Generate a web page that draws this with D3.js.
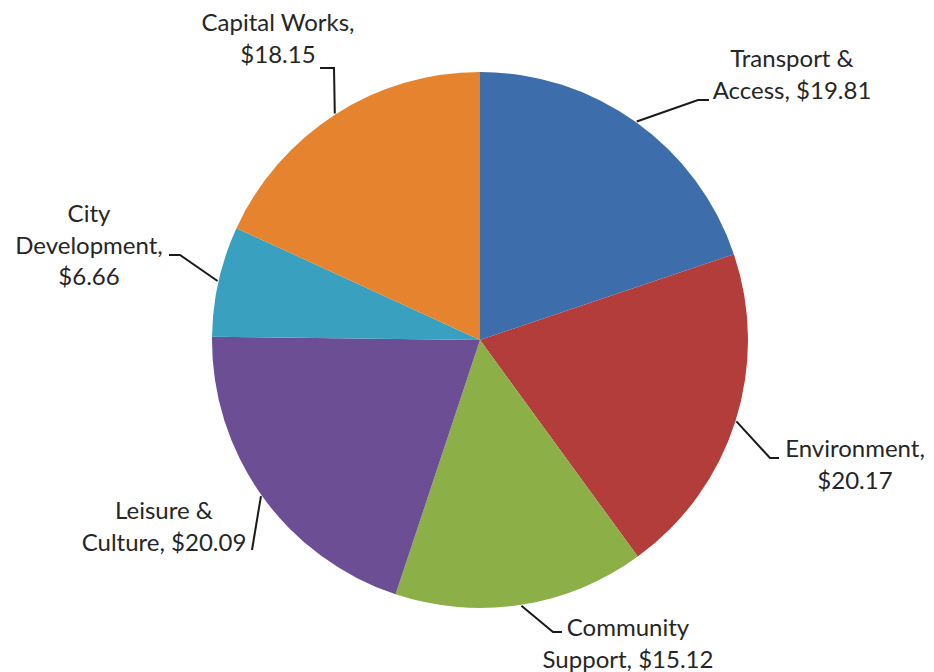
<!DOCTYPE html>
<html>
<head>
<meta charset="utf-8">
<script src="https://cdn.jsdelivr.net/npm/d3@7/dist/d3.min.js"></script>
<style>
  html, body { margin: 0; padding: 0; background: #ffffff; }
  svg text { font-family: Lato, "Liberation Sans", sans-serif; fill: #262626; }
</style>
</head>
<body>
<svg id="chart" width="934" height="672"></svg>
<script>
// Budget split by program area ($ per $100 of spending)
const categories = ["Transport & Access", "Environment", "Community Support", "Leisure & Culture", "City Development", "Capital Works"];
const values = [19.81, 20.17, 15.12, 20.09, 6.66, 18.15];
const labelLines = [
  ["Transport &", "Access, $19.81"],
  ["Environment,", "$20.17"],
  ["Community", "Support, $15.12"],
  ["Leisure &", "Culture, $20.09"],
  ["City", "Development,", "$6.66"],
  ["Capital Works,", "$18.15"]
];
const colors = ["#3d6eab", "#b23d3a", "#8caf48", "#6c4e95", "#39a0bf", "#e5832f"];

// Label placement: elbow point of the leader, end of the leader, text centre and first-line baseline
const labelLayout = [
  { elbow: [698, 100], end: [709, 100], x: 792, y: 67 },
  { elbow: [770, 458], end: [779, 458], x: 855, y: 457 },
  { elbow: [553, 632], end: [562, 632], x: 628, y: 636 },
  { elbow: [252, 550], end: [252, 550], x: 164, y: 519 },
  { elbow: [180, 255], end: [169, 255], x: 89, y: 222 },
  { elbow: [334, 68], end: [320, 68], x: 278, y: 31 }
];

const cx = 480, cy = 340, radius = 268;
const lineHeight = 31.5;

const svg = d3.select("#chart");
const g = svg.append("g").attr("transform", `translate(${cx},${cy})`);

const pie = d3.pie().sort(null).value(d => d);
const arcs = pie(values);
const arc = d3.arc().innerRadius(0).outerRadius(radius);

g.selectAll("path.slice")
  .data(arcs)
  .join("path")
  .attr("class", "slice")
  .attr("d", arc)
  .attr("fill", (d, i) => colors[i]);

// Leader lines start on the rim at each slice's mid-angle
const rim = d3.arc().innerRadius(radius + 1).outerRadius(radius + 1);
arcs.forEach((a, i) => {
  const [px, py] = rim.centroid(a);
  const L = labelLayout[i];
  svg.append("polyline")
    .attr("points", [[px + cx, py + cy], L.elbow, L.end].map(p => p.join(",")).join(" "))
    .attr("fill", "none")
    .attr("stroke", "#1a1a1a")
    .attr("stroke-width", 2);
});

// Multi-line labels
labelLines.forEach((lines, i) => {
  const L = labelLayout[i];
  const t = svg.append("text")
    .attr("x", L.x)
    .attr("y", L.y)
    .attr("text-anchor", "middle")
    .style("font-size", "24px");
  lines.forEach((s, j) => {
    t.append("tspan").attr("x", L.x).attr("dy", j === 0 ? 0 : lineHeight).text(s);
  });
});
</script>
</body>
</html>
